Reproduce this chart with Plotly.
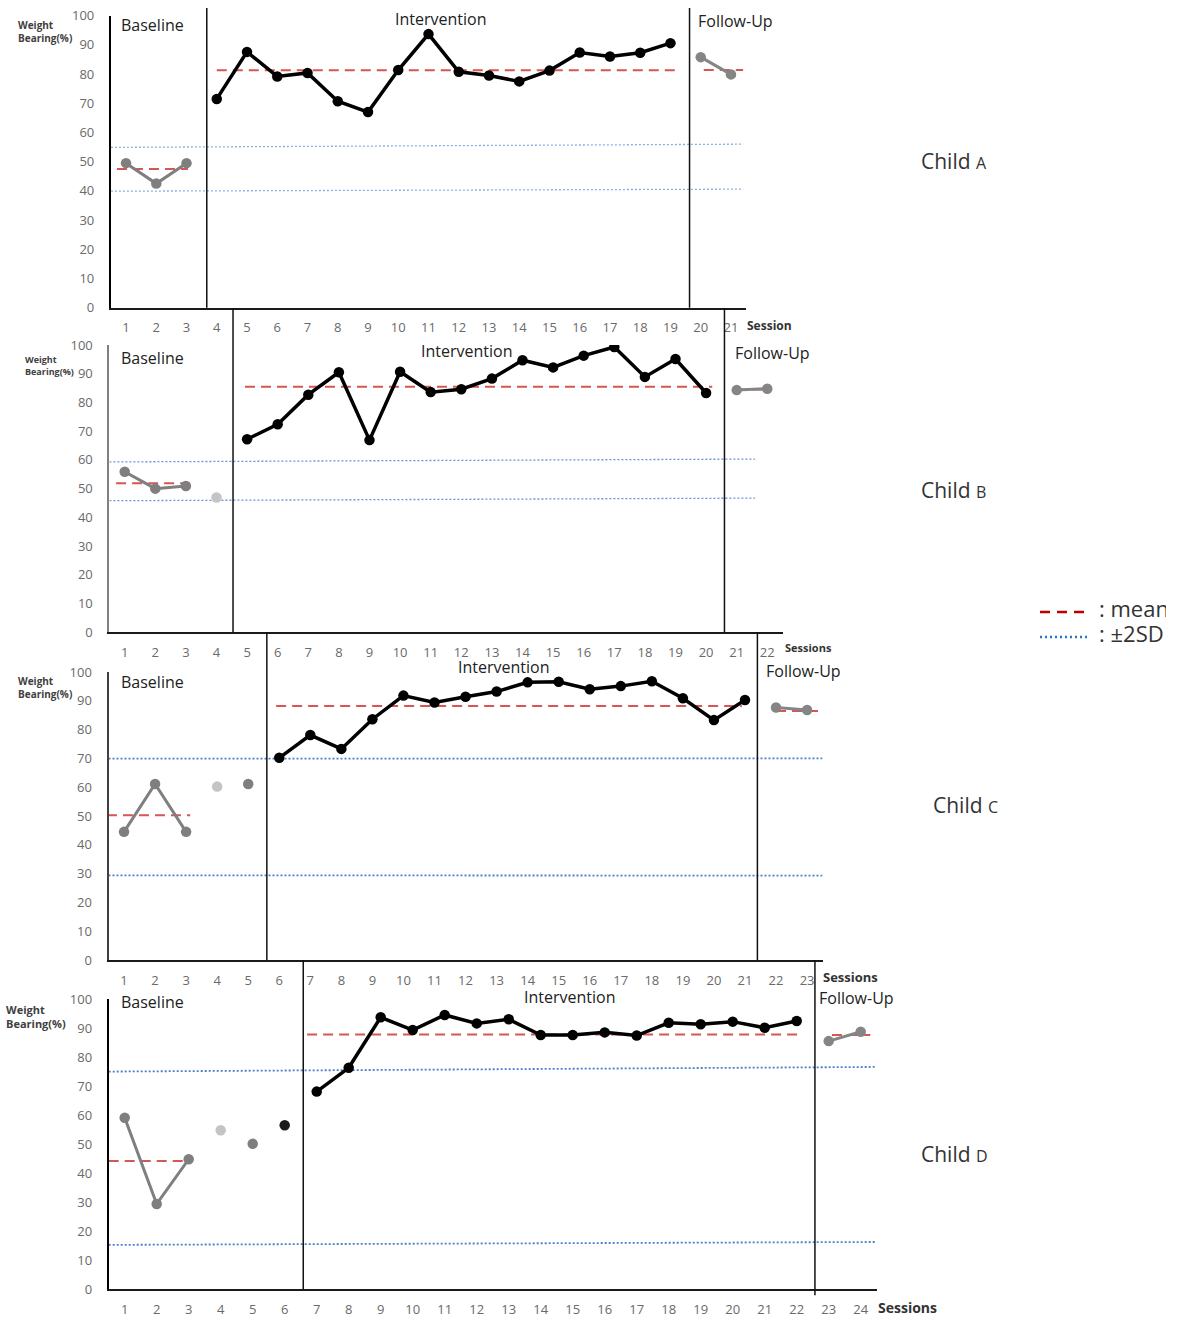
import plotly.graph_objects as go

W, H = 1179, 1317

# ---------------- data: weight bearing (%) per session ----------------
# Child A
a_base_sessions = [1, 2, 3]
a_base_values = [49.5, 42.5, 49.5]
a_int_sessions = [4, 5, 6, 7, 8, 9, 10, 11, 12, 13, 14, 15, 16, 17, 18, 19]
a_int_values = [71.5, 87.6, 79.2, 80.4, 70.7, 67.0, 81.4, 93.7, 80.8, 79.5, 77.5, 81.2, 87.4, 86.0, 87.3, 90.6]
a_fu_sessions = [20, 21]
a_fu_values = [85.8, 79.9]
a_extra_sessions = []
a_extra_values = []
a_means = [47.5, 81.3, 81.4]            # baseline, intervention, follow-up
a_sd_upper = [54.9, 56.0]               # +2SD (left end, right end)
a_sd_lower = [39.9, 40.6]               # -2SD (left end, right end)
a_phase_changes = [3.67, 19.63]
a_n_sessions = 21

# Child B
b_base_sessions = [1, 2, 3]
b_base_values = [55.9, 50.0, 50.9]
b_int_sessions = [5, 6, 7, 8, 9, 10, 11, 12, 13, 14, 15, 16, 17, 18, 19, 20]
b_int_values = [67.2, 72.4, 82.7, 90.5, 66.9, 90.7, 83.6, 84.6, 88.3, 94.7, 92.2, 96.3, 99.3, 88.9, 95.1, 83.3]
b_fu_sessions = [21, 22]
b_fu_values = [84.3, 84.8]
b_extra_sessions = [4]
b_extra_values = [46.9]
b_means = [51.9, 85.5, 84.5]
b_sd_upper = [59.3, 60.3]
b_sd_lower = [45.8, 46.7]
b_phase_changes = [4.54, 20.6]
b_n_sessions = 22

# Child C
c_base_sessions = [1, 2, 3]
c_base_values = [44.5, 61.1, 44.5]
c_int_sessions = [6, 7, 8, 9, 10, 11, 12, 13, 14, 15, 16, 17, 18, 19, 20, 21]
c_int_values = [70.2, 78.1, 73.3, 83.6, 91.8, 89.4, 91.4, 93.2, 96.4, 96.6, 94.0, 95.1, 96.8, 90.9, 83.3, 90.3]
c_fu_sessions = [22, 23]
c_fu_values = [87.7, 86.8]
c_extra_sessions = [4, 5]
c_extra_values = [60.2, 61.1]
c_means = [50.3, 88.2, 86.5]
c_sd_upper = [69.9, 70.0]
c_sd_lower = [29.4, 29.3]
c_phase_changes = [5.6, 21.4]
c_n_sessions = 23

# Child D
d_base_sessions = [1, 2, 3]
d_base_values = [59.1, 29.4, 44.8]
d_int_sessions = [7, 8, 9, 10, 11, 12, 13, 14, 15, 16, 17, 18, 19, 20, 21, 22]
d_int_values = [68.1, 76.3, 93.7, 89.3, 94.5, 91.6, 93.0, 87.6, 87.6, 88.5, 87.4, 91.8, 91.3, 92.2, 90.1, 92.4]
d_fu_sessions = [23, 24]
d_fu_values = [85.5, 88.7]
d_extra_sessions = [4, 5, 6]
d_extra_values = [54.8, 50.1, 56.5]
d_means = [44.2, 87.8, 87.6]
d_sd_upper = [75.0, 76.6]
d_sd_lower = [15.3, 16.3]
d_phase_changes = [6.58, 22.57]
d_n_sessions = 24

y_ticks = [0, 10, 20, 30, 40, 50, 60, 70, 80, 90, 100]
phase_names = ["Baseline", "Intervention", "Follow-Up"]
child_letters = ["A", "B", "C", "D"]
key_labels = [": mean", ": ±2SD"]

children = [
    dict(base=(a_base_sessions, a_base_values), inter=(a_int_sessions, a_int_values),
         fu=(a_fu_sessions, a_fu_values), extra=(a_extra_sessions, a_extra_values),
         means=a_means, sd=(a_sd_upper, a_sd_lower), breaks=a_phase_changes, n=a_n_sessions),
    dict(base=(b_base_sessions, b_base_values), inter=(b_int_sessions, b_int_values),
         fu=(b_fu_sessions, b_fu_values), extra=(b_extra_sessions, b_extra_values),
         means=b_means, sd=(b_sd_upper, b_sd_lower), breaks=b_phase_changes, n=b_n_sessions),
    dict(base=(c_base_sessions, c_base_values), inter=(c_int_sessions, c_int_values),
         fu=(c_fu_sessions, c_fu_values), extra=(c_extra_sessions, c_extra_values),
         means=c_means, sd=(c_sd_upper, c_sd_lower), breaks=c_phase_changes, n=c_n_sessions),
    dict(base=(d_base_sessions, d_base_values), inter=(d_int_sessions, d_int_values),
         fu=(d_fu_sessions, d_fu_values), extra=(d_extra_sessions, d_extra_values),
         means=d_means, sd=(d_sd_upper, d_sd_lower), breaks=d_phase_changes, n=d_n_sessions),
]

# ---------------- panel geometry and styling (pixels) ----------------
panels = [
    dict(x0=110.9, x1=746.1, ytop=15.7, ybot=307.7, line_top=8, yaxis_color="#000000",
         mean_spans=[(0.70, 3.05), (4.0, 19.3), (20.1, 21.4)], sd_end=21.4,
         sd_color="rgba(130,165,222,0.9)", sd_width=1.3,
         extra_colors=[],
         wb=(16, 31, 10), phase_lbl=[(119, 25), (393, 19), (696, 21)],
         sess=("Session", 745, 325, 12), child=(919, 161)),
    dict(x0=109.4, x1=782.6, ytop=345, ybot=632.3, line_top=308, yaxis_color="#808080",
         mean_spans=[(0.72, 3.13), (4.93, 20.2), (21.0, 22.1)], sd_end=21.6,
         sd_color="rgba(95,135,210,0.9)", sd_width=1.3,
         extra_colors=["#c4c4c4"],
         wb=(23, 365, 9), phase_lbl=[(119, 358), (419, 351), (733, 353)],
         sess=("Sessions", 783, 648, 11), child=(919, 490)),
    dict(x0=108.5, x1=822.6, ytop=672, ybot=960, line_top=632, yaxis_color="#404040",
         mean_spans=[(0.45, 3.13), (5.9, 20.9), (22.0, 23.4)], sd_end=23.5,
         sd_color="rgba(70,120,200,0.95)", sd_width=1.8,
         extra_colors=["#c4c4c4", "#7f7f7f"],
         wb=(16, 687, 10), phase_lbl=[(119, 682), (456, 667), (764, 671)],
         sess=("Sessions", 821, 977, 13), child=(931, 805)),
    dict(x0=108.7, x1=876.7, ytop=999, ybot=1289.3, line_top=960, yaxis_color="#000000",
         mean_spans=[(0.5, 3.04), (6.7, 22.1), (23.1, 24.3)], sd_end=24.5,
         sd_color="rgba(70,120,200,0.95)", sd_width=1.8,
         extra_colors=["#c4c4c4", "#7f7f7f", "#1a1a1a"],
         wb=(4, 1016, 11), phase_lbl=[(119, 1002), (522, 997), (817, 998)],
         sess=("Sessions", 876, 1307, 14), child=(919, 1154)),
]

FONT = "Open Sans"
TICK_GRAY = "#6a6a6a"
MEAN_RED = "rgb(214,86,86)"


def fx(p):
    return p / W


def fy(p):
    return 1 - p / H


fig = go.Figure()
layout_axes = {}
shapes = []
annotations = []

for i, (ch, pn) in enumerate(zip(children, panels)):
    k = "" if i == 0 else str(i + 1)
    xa, ya = "x" + k, "y" + k

    layout_axes["xaxis" + k] = dict(
        domain=[fx(pn["x0"]), fx(pn["x1"])], range=[0.5, ch["n"] + 0.5],
        anchor=ya, showgrid=False, zeroline=False, automargin=False,
        showline=True, linecolor="#1a1a1a", linewidth=2,
        tickmode="array", tickvals=list(range(1, ch["n"] + 1)),
        ticktext=[str(v) for v in range(1, ch["n"] + 1)],
        ticks="", ticklabelstandoff=7,
        tickfont=dict(family=FONT, size=13, color=TICK_GRAY),
    )
    layout_axes["yaxis" + k] = dict(
        domain=[fy(pn["ybot"]), fy(pn["ytop"])], range=[0, 100],
        anchor=xa, showgrid=False, zeroline=False, automargin=False,
        showline=True, linecolor=pn["yaxis_color"], linewidth=2,
        tickmode="array", tickvals=y_ticks, ticks="", ticklabelstandoff=12,
        tickfont=dict(family=FONT, size=13, color=TICK_GRAY),
    )

    # ±2SD band limits
    for lim in ch["sd"]:
        fig.add_trace(go.Scatter(
            x=[0.5, pn["sd_end"]], y=lim, mode="lines", xaxis=xa, yaxis=ya,
            line=dict(color=pn["sd_color"], width=pn["sd_width"], dash="2px,2px"),
            hoverinfo="skip", showlegend=False))

    # phase means
    for (s0, s1), m in zip(pn["mean_spans"], ch["means"]):
        fig.add_trace(go.Scatter(
            x=[s0, s1], y=[m, m], mode="lines", xaxis=xa, yaxis=ya,
            line=dict(color=MEAN_RED, width=2, dash="10px,6px"),
            hoverinfo="skip", showlegend=False))

    # baseline and follow-up (gray), intervention (black)
    for (sx, sv), col, lw in [(ch["base"], "#7f7f7f", 3), (ch["fu"], "#858585", 3),
                              (ch["inter"], "#000000", 3.5)]:
        fig.add_trace(go.Scatter(
            x=sx, y=sv, mode="lines+markers", xaxis=xa, yaxis=ya,
            line=dict(color=col, width=lw),
            marker=dict(color=col, size=10.5),
            showlegend=False))

    # unconnected baseline probes
    if ch["extra"][0]:
        fig.add_trace(go.Scatter(
            x=ch["extra"][0], y=ch["extra"][1], mode="markers", xaxis=xa, yaxis=ya,
            marker=dict(color=pn["extra_colors"], size=10.5), showlegend=False))

    # phase change lines
    for j, b in enumerate(ch["breaks"]):
        bottom = pn["ybot"] + (6 if (i == 3 and j == 1) else 0)
        shapes.append(dict(type="line", xref=xa, yref="paper", x0=b, x1=b,
                           y0=fy(bottom), y1=fy(pn["line_top"]),
                           line=dict(color="#111111", width=1.5)))

    # axis title text
    wx, wy, ws = pn["wb"]
    annotations.append(dict(
        xref="paper", yref="paper", x=fx(wx), y=fy(wy), xanchor="left", yanchor="middle",
        text="<b>Weight<br>Bearing(%)</b>", align="left", showarrow=False,
        font=dict(family=FONT, size=ws, color="#404040")))

    for name, (lx, ly) in zip(phase_names, pn["phase_lbl"]):
        annotations.append(dict(
            xref="paper", yref="paper", x=fx(lx), y=fy(ly), xanchor="left", yanchor="middle",
            text=name, showarrow=False, font=dict(family=FONT, size=16, color="#222222")))

    st, sx_, sy_, ss = pn["sess"]
    annotations.append(dict(
        xref="paper", yref="paper", x=fx(sx_), y=fy(sy_), xanchor="left", yanchor="middle",
        text="<b>" + st + "</b>", showarrow=False, font=dict(family=FONT, size=ss, color="#333333")))

    cx, cy = pn["child"]
    annotations.append(dict(
        xref="paper", yref="paper", x=fx(cx), y=fy(cy), xanchor="left", yanchor="middle",
        text="Child <span style='font-size:16px'>" + child_letters[i] + "</span>",
        showarrow=False, font=dict(family=FONT, size=21, color="#333333")))

# key for the reference lines: its own hidden axes so the text is clipped at the right edge
KEY_X0, KEY_X1, KEY_TOP, KEY_BOT = 1030, 1166, 595, 655
layout_axes["xaxis5"] = dict(domain=[fx(KEY_X0), fx(KEY_X1)], range=[KEY_X0, KEY_X1],
                             anchor="y5", visible=False, automargin=False)
layout_axes["yaxis5"] = dict(domain=[fy(KEY_BOT), fy(KEY_TOP)], range=[KEY_BOT, KEY_TOP],
                             anchor="x5", visible=False, automargin=False)
for row_y, col, dash, lbl in [(612, "#c00000", "10px,7px", key_labels[0]),
                              (637, "#1f78c8", "2px,3px", key_labels[1])]:
    fig.add_trace(go.Scatter(x=[1040, 1090], y=[row_y, row_y], mode="lines",
                             xaxis="x5", yaxis="y5", line=dict(color=col, width=2.5, dash=dash),
                             hoverinfo="skip", showlegend=False))
    fig.add_trace(go.Scatter(x=[1099], y=[row_y - 1], mode="text", text=[lbl],
                             textposition="middle right", cliponaxis=True,
                             xaxis="x5", yaxis="y5",
                             textfont=dict(family=FONT, size=22, color="#333333"),
                             hoverinfo="skip", showlegend=False))

fig.update_layout(
    width=W, height=H, margin=dict(l=0, r=0, t=0, b=0),
    paper_bgcolor="white", plot_bgcolor="white",
    shapes=shapes, annotations=annotations, **layout_axes)

fig.write_html("out.html")
